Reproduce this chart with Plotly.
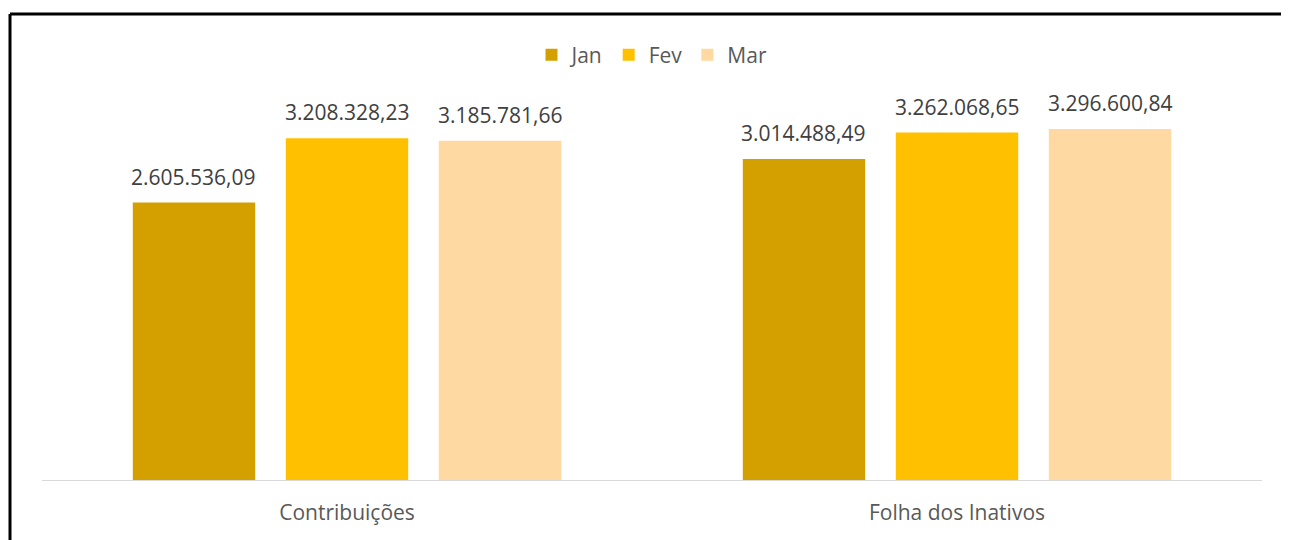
import plotly.graph_objects as go

categories = ["Contribuições", "Folha dos Inativos"]
months = ["Jan", "Fev", "Mar"]
values_jan = [2605536.09, 3014488.49]
values_fev = [3208328.23, 3262068.65]
values_mar = [3185781.66, 3296600.84]
series = [values_jan, values_fev, values_mar]
colors = ["#D4A000", "#FFC000", "#FFD9A1"]

# page body has an 8px margin; size/margins compensate so the chart lands in the 1289x540 window
OFF = 8
W, H = 1289 - OFF, 540 - OFF
ML, MR, MT, MB = 34, 27, 52, 60
plot_w = W - ML - MR
plot_h = H - MT - MB
px_per_unit = 106.5e-6
ymax = plot_h / px_per_unit
BARGAP, GROUPGAP = 0.2475, 0.2
FONT = "Open Sans"
FS = 21


def fmt_pt(v):
    s = f"{v:,.2f}"
    return s.replace(",", "X").replace(".", ",").replace("X", ".")


def px_to_paper_x(px):
    return (px - OFF - ML) / plot_w


def px_to_paper_y(py):
    return (H - MB - (py - OFF)) / plot_h


fig = go.Figure()
for name, vals, col in zip(months, series, colors):
    fig.add_trace(go.Bar(
        x=categories, y=vals, name=name, marker_color=col,
        marker_line_width=0, hoverinfo="x+y+name",
    ))

# value labels above each bar (offset within group derived from bar geometry)
cat_px = plot_w / len(categories)
slot_px = (1 - BARGAP) * cat_px / len(months)
annotations = []
for i, vals in enumerate(series):
    for cat, v in zip(categories, vals):
        annotations.append(dict(
            x=cat, y=v, xref="x", yref="y", text=fmt_pt(v), showarrow=False,
            xanchor="center", yanchor="bottom",
            xshift=(i - (len(months) - 1) / 2) * slot_px, yshift=10,
            font=dict(family=FONT, size=FS, color="#404040"),
        ))

fig.update_layout(
    width=W, height=H,
    margin=dict(l=ML, r=MR, t=MT, b=MB),
    paper_bgcolor="white", plot_bgcolor="white",
    separators=",.",
    barmode="group", bargap=BARGAP, bargroupgap=GROUPGAP,
    font=dict(family=FONT, size=FS, color="#595959"),
    legend=dict(orientation="h", x=0.5, xanchor="center", y=px_to_paper_y(55), yanchor="middle",
                font=dict(size=FS, color="#595959"), itemwidth=30),
    xaxis=dict(showline=True, linecolor="#D9D9D9", linewidth=1, ticks="",
               ticklabelstandoff=14, tickfont=dict(size=FS, color="#595959")),
    yaxis=dict(range=[0, ymax], visible=False, showgrid=False),
    annotations=annotations,
    shapes=[
        dict(type="line", xref="paper", yref="paper",
             x0=px_to_paper_x(10), x1=px_to_paper_x(1300), y0=px_to_paper_y(14), y1=px_to_paper_y(14),
             line=dict(color="black", width=3)),
        dict(type="line", xref="paper", yref="paper",
             x0=px_to_paper_x(10), x1=px_to_paper_x(10), y0=px_to_paper_y(14), y1=px_to_paper_y(560),
             line=dict(color="black", width=3)),
    ],
)

fig.write_html("out.html")
